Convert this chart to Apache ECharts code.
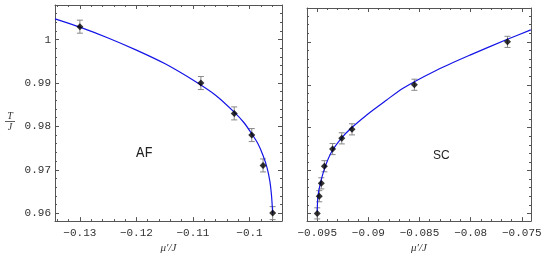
<!DOCTYPE html>
<html>
<head>
<meta charset="utf-8">
<script src="https://cdn.jsdelivr.net/npm/echarts@6/dist/echarts.min.js"></script>
<style>
  html, body { margin: 0; padding: 0; background: #fff; }
  #chart { width: 545px; height: 259px; }
</style>
</head>
<body>
<div id="chart"></div>
<script>
// AF branch: measured points, error bars, fitted curve
const afX = [-0.1300, -0.1086, -0.1027, -0.0996, -0.0976, -0.0959]
const afY = [1.003, 0.990, 0.983, 0.978, 0.971, 0.960]
const afErr = [0.0015, 0.0015, 0.0015, 0.0015, 0.0015, 0.0015]
const afFitX = [-0.1344, -0.1300, -0.1250, -0.1200, -0.1150, -0.1100, -0.1060, -0.1027, -0.1010, -0.0996, -0.0985, -0.0976, -0.0969, -0.0964, -0.0961, -0.0959]
const afFitY = [1.0048, 1.0029, 1.0004, 0.9976, 0.9945, 0.9907, 0.9872, 0.9833, 0.9809, 0.9783, 0.9760, 0.9733, 0.9705, 0.9674, 0.9640, 0.9600]

// SC branch
const scX = [-0.0950, -0.0948, -0.0946, -0.0943, -0.0935, -0.0926, -0.0916, -0.0855, -0.0764]
const scY = [0.960, 0.964, 0.967, 0.971, 0.975, 0.9775, 0.9796, 0.990, 1.000]
const scErr = [0.0013, 0.0013, 0.0013, 0.0013, 0.0013, 0.0013, 0.0013, 0.0013, 0.0013]
const scFitX = [-0.0950, -0.09494, -0.09471, -0.09428, -0.09363, -0.09265, -0.09167, -0.09004, -0.08824, -0.08661, -0.08333, -0.08007, -0.07641, -0.07412]
const scFitY = [0.9604, 0.9638, 0.9668, 0.9705, 0.9742, 0.9775, 0.9799, 0.9832, 0.9864, 0.9892, 0.9934, 0.9969, 1.0006, 1.0028]

// ticks
const afXTicks = [-0.13, -0.12, -0.11, -0.1]
const scXTicks = [-0.095, -0.09, -0.085, -0.08, -0.075]
const yTicks = [0.96, 0.97, 0.98, 0.99, 1]

const frameColor = '#555'
const monoFont = '"Liberation Mono", "DejaVu Sans Mono", monospace'

// minor ticks between min and max with a fixed step, leaving the major ones out
function minorTicks(min, max, step, major) {
  let out = []
  let start = Math.ceil(min / step - 1e-6)
  for (let k = start; k * step <= max + 1e-9; k++) {
    let v = +(k * step).toFixed(6)
    if (!major.some(m => Math.abs(m - v) < step / 10)) out.push(v)
  }
  return out
}

function fmt(v) {
  return String(+v.toFixed(4)).replace('-', '\u2212')
}

// one side of the frame: a major axis (line + ticks [+ labels]) and a minor one (ticks)
function side(dim, grid, pos, min, max, major, minor, labelled, extra) {
  let base = { gridIndex: grid, position: pos, type: 'value', min: min, max: max, splitLine: { show: false } }
  let a = Object.assign({}, base, {
    axisLine: { show: true, lineStyle: { color: frameColor, width: 1 } },
    axisTick: { show: true, inside: true, length: 4, customValues: major, lineStyle: { color: frameColor } },
    axisLabel: labelled
      ? { show: true, customValues: major, formatter: fmt, fontFamily: monoFont, fontSize: 11, color: '#333', margin: dim === 'x' ? 6 : 4 }
      : { show: false }
  }, extra || {})
  let b = Object.assign({}, base, {
    axisLine: { show: false },
    axisTick: { show: true, inside: true, length: 2, customValues: minor, lineStyle: { color: frameColor } },
    axisLabel: { show: false }
  })
  return [a, b]
}

const afXMin = -0.1344, afXMax = -0.09425
const scXMin = -0.0960, scXMax = -0.0741
const afYMin = 0.95816, afYMax = 1.008
const scYMin = 0.9582, scYMax = 1.0079

const nameStyle = { fontFamily: '"Liberation Serif", serif', fontStyle: 'italic', fontSize: 11, color: '#333' }

const xAxes = [].concat(
  side('x', 0, 'bottom', afXMin, afXMax, afXTicks, minorTicks(afXMin, afXMax, 0.002, afXTicks), true,
    { name: '\u03bc\u2032/J', nameLocation: 'middle', nameGap: 18, nameTextStyle: nameStyle }),
  side('x', 0, 'top', afXMin, afXMax, afXTicks, minorTicks(afXMin, afXMax, 0.002, afXTicks), false),
  side('x', 1, 'bottom', scXMin, scXMax, scXTicks, minorTicks(scXMin, scXMax, 0.001, scXTicks), true,
    { name: '\u03bc\u2032/J', nameLocation: 'middle', nameGap: 18, nameTextStyle: nameStyle }),
  side('x', 1, 'top', scXMin, scXMax, scXTicks, minorTicks(scXMin, scXMax, 0.001, scXTicks), false)
)
const yAxes = [].concat(
  side('y', 0, 'left', afYMin, afYMax, yTicks, minorTicks(afYMin, afYMax, 0.002, yTicks), true),
  side('y', 0, 'right', afYMin, afYMax, yTicks, minorTicks(afYMin, afYMax, 0.002, yTicks), false),
  side('y', 1, 'left', scYMin, scYMax, yTicks, minorTicks(scYMin, scYMax, 0.002, yTicks), false),
  side('y', 1, 'right', scYMin, scYMax, yTicks, minorTicks(scYMin, scYMax, 0.002, yTicks), false)
)

function zip(xs, ys, es) {
  return xs.map((x, i) => es ? [x, ys[i], es[i]] : [x, ys[i]])
}

function errorBars(params, api) {
  let x = api.value(0), y = api.value(1), e = api.value(2)
  let top = api.coord([x, y + e])
  let bot = api.coord([x, y - e])
  let st = { stroke: '#888', lineWidth: 1 }
  return {
    type: 'group',
    children: [
      { type: 'line', shape: { x1: top[0], y1: top[1], x2: bot[0], y2: bot[1] }, style: st },
      { type: 'line', shape: { x1: top[0] - 3, y1: top[1], x2: top[0] + 3, y2: top[1] }, style: st },
      { type: 'line', shape: { x1: bot[0] - 3, y1: bot[1], x2: bot[0] + 3, y2: bot[1] }, style: st }
    ]
  }
}

function panelSeries(xi, yi, px, py, pe, fx, fy) {
  return [
    { type: 'custom', xAxisIndex: xi, yAxisIndex: yi, renderItem: errorBars, data: zip(px, py, pe), z: 2, silent: true },
    { type: 'line', xAxisIndex: xi, yAxisIndex: yi, data: zip(fx, fy), showSymbol: false, smooth: 0.25,
      lineStyle: { color: '#1414e6', width: 1.2 }, z: 3, silent: true },
    { type: 'scatter', xAxisIndex: xi, yAxisIndex: yi, data: zip(px, py), symbol: 'diamond', symbolSize: 7,
      itemStyle: { color: '#000' }, z: 4, silent: true }
  ]
}

const chart = echarts.init(document.getElementById('chart'), null, { renderer: 'canvas' })

chart.setOption({
  animation: false,
  grid: [
    { left: 55, top: 5, width: 227, height: 225 },
    { left: 307, top: 8, width: 224, height: 224 }
  ],
  xAxis: xAxes,
  yAxis: yAxes,
  series: [].concat(
    panelSeries(0, 0, afX, afY, afErr, afFitX, afFitY),
    panelSeries(4, 4, scX, scY, scErr, scFitX, scFitY)
  ),
  graphic: [
    { type: 'text', left: 136, top: 146, style: { text: 'AF', fontFamily: monoFont, fontSize: 14, fill: '#222' } },
    { type: 'text', left: 433, top: 150, style: { text: 'SC', fontFamily: '"Liberation Sans", sans-serif', fontSize: 12, fill: '#222' } },
    // T/J written as a fraction
    { type: 'text', x: 10, y: 116, style: { text: 'T', fontFamily: '"Liberation Serif", serif', fontStyle: 'italic', fontSize: 10, fill: '#333', align: 'center', verticalAlign: 'middle' } },
    { type: 'line', shape: { x1: 5, y1: 121.5, x2: 15, y2: 121.5 }, style: { stroke: '#333', lineWidth: 0.8 } },
    { type: 'text', x: 10, y: 127, style: { text: 'J', fontFamily: '"Liberation Serif", serif', fontStyle: 'italic', fontSize: 10, fill: '#333', align: 'center', verticalAlign: 'middle' } }
  ]
})
</script>
</body>
</html>
